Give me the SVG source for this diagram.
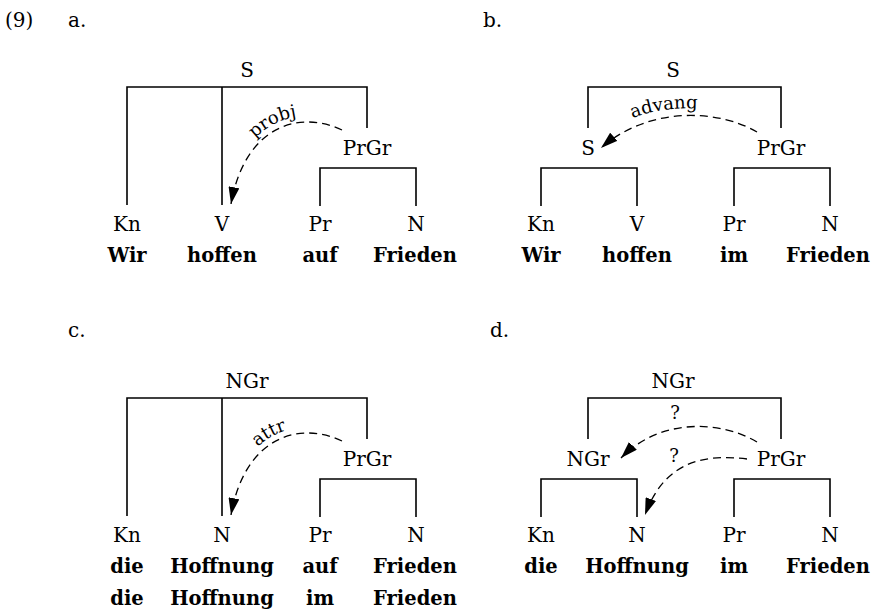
<svg xmlns="http://www.w3.org/2000/svg" width="877" height="612" viewBox="0 0 877 612">
<style>
text{font-family:"DejaVu Serif","Liberation Serif",serif;fill:#000}
.n{font-size:20px;text-anchor:middle}
.w{font-size:19.5px;font-weight:bold;text-anchor:middle}
.t{font-size:20px}
.lab{font-size:18px}
.tree{fill:none;stroke:#000;stroke-width:1.6}
.arc{fill:none;stroke:#000;stroke-width:1.3;stroke-dasharray:8 5}
</style>
<defs>
<marker id="ah" markerUnits="userSpaceOnUse" markerWidth="18" markerHeight="11" refX="17" refY="5.5" orient="auto">
<path d="M0,0 L17,5.5 L0,11 z" fill="#000"/>
</marker>
<path id="tpA" d="M224,204 C240,119 300,103 345,125"/>
<path id="tpC" d="M224,515 C240,430 300,414 345,436"/>
<path id="tpB" d="M610,128 Q670,96 740,116"/>
</defs>
<rect width="877" height="612" fill="#fff"/>

<g id="titles">
<text class="t" x="5" y="27">(9)</text>
<text class="t" x="68" y="27">a.</text>
<text class="t" x="483" y="27">b.</text>
<text class="t" x="68" y="337">c.</text>
<text class="t" x="490" y="337">d.</text>
</g>

<g id="connectors">
<path class="tree" d="M127,205 V87 H367 V128 M222,87 V205 M320,206 V168 H416 V206"/>
<path class="tree" d="M588,128 V87 H781 V128 M541,206 V168 H637 V206 M734,206 V168 H830 V206"/>
<path class="tree" d="M127,516 V398 H367 V439 M222,398 V516 M320,517 V479 H416 V517"/>
<path class="tree" d="M588,439 V398 H781 V439 M541,517 V479 H637 V517 M734,517 V479 H830 V517"/>
<path id="arc-a" class="arc" d="M342,130 C300,110 245,125 231,204" marker-end="url(#ah)"/>
<path id="arc-b" class="arc" d="M757,132 C720,110 650,105 601,148" marker-end="url(#ah)"/>
<path id="arc-c" class="arc" d="M342,441 C300,421 245,436 231,515" marker-end="url(#ah)"/>
<path id="arc-d1" class="arc" d="M757,442 C720,420 660,418 621,458" marker-end="url(#ah)"/>
<path id="arc-d2" class="arc" d="M747,459 C705,454 665,460 645,515" marker-end="url(#ah)"/>
<text class="lab"><textPath href="#tpA" startOffset="57%" text-anchor="middle">probj</textPath></text>
<text class="lab"><textPath href="#tpC" startOffset="55%" text-anchor="middle">attr</textPath></text>
<text class="lab"><textPath href="#tpB" startOffset="43%" text-anchor="middle">advang</textPath></text>
<text class="lab" x="675" y="419" text-anchor="middle">?</text>
<text class="lab" x="674" y="462" text-anchor="middle">?</text>
</g>

<g id="a-S"><text class="n" x="247" y="77">S</text></g>
<g id="a-PrGr"><text class="n" x="367" y="155">PrGr</text></g>
<g id="a-Kn"><text class="n" x="127" y="231">Kn</text><text class="w" x="127" y="262">Wir</text></g>
<g id="a-V"><text class="n" x="222" y="231">V</text><text class="w" x="222" y="262">hoffen</text></g>
<g id="a-Pr"><text class="n" x="320" y="231">Pr</text><text class="w" x="320" y="262">auf</text></g>
<g id="a-N"><text class="n" x="416" y="231">N</text><text class="w" x="415" y="262">Frieden</text></g>

<g id="b-S"><text class="n" x="673" y="77">S</text></g>
<g id="b-S2"><text class="n" x="588" y="155">S</text></g>
<g id="b-PrGr"><text class="n" x="781" y="155">PrGr</text></g>
<g id="b-Kn"><text class="n" x="541" y="231">Kn</text><text class="w" x="541" y="262">Wir</text></g>
<g id="b-V"><text class="n" x="637" y="231">V</text><text class="w" x="637" y="262">hoffen</text></g>
<g id="b-Pr"><text class="n" x="734" y="231">Pr</text><text class="w" x="734" y="262">im</text></g>
<g id="b-N"><text class="n" x="830" y="231">N</text><text class="w" x="828" y="262">Frieden</text></g>

<g id="c-NGr"><text class="n" x="247" y="388">NGr</text></g>
<g id="c-PrGr"><text class="n" x="367" y="466">PrGr</text></g>
<g id="c-Kn"><text class="n" x="127" y="542">Kn</text><text class="w" x="127" y="573">die</text><text class="w" x="127" y="605">die</text></g>
<g id="c-N1"><text class="n" x="222" y="542">N</text><text class="w" x="222" y="573">Hoffnung</text><text class="w" x="222" y="605">Hoffnung</text></g>
<g id="c-Pr"><text class="n" x="320" y="542">Pr</text><text class="w" x="320" y="573">auf</text><text class="w" x="320" y="605">im</text></g>
<g id="c-N2"><text class="n" x="416" y="542">N</text><text class="w" x="415" y="573">Frieden</text><text class="w" x="415" y="605">Frieden</text></g>

<g id="d-NGr"><text class="n" x="673" y="388">NGr</text></g>
<g id="d-NGr2"><text class="n" x="588" y="466">NGr</text></g>
<g id="d-PrGr"><text class="n" x="781" y="466">PrGr</text></g>
<g id="d-Kn"><text class="n" x="541" y="542">Kn</text><text class="w" x="541" y="573">die</text></g>
<g id="d-N1"><text class="n" x="637" y="542">N</text><text class="w" x="637" y="573">Hoffnung</text></g>
<g id="d-Pr"><text class="n" x="734" y="542">Pr</text><text class="w" x="734" y="573">im</text></g>
<g id="d-N2"><text class="n" x="830" y="542">N</text><text class="w" x="828" y="573">Frieden</text></g>
</svg>
